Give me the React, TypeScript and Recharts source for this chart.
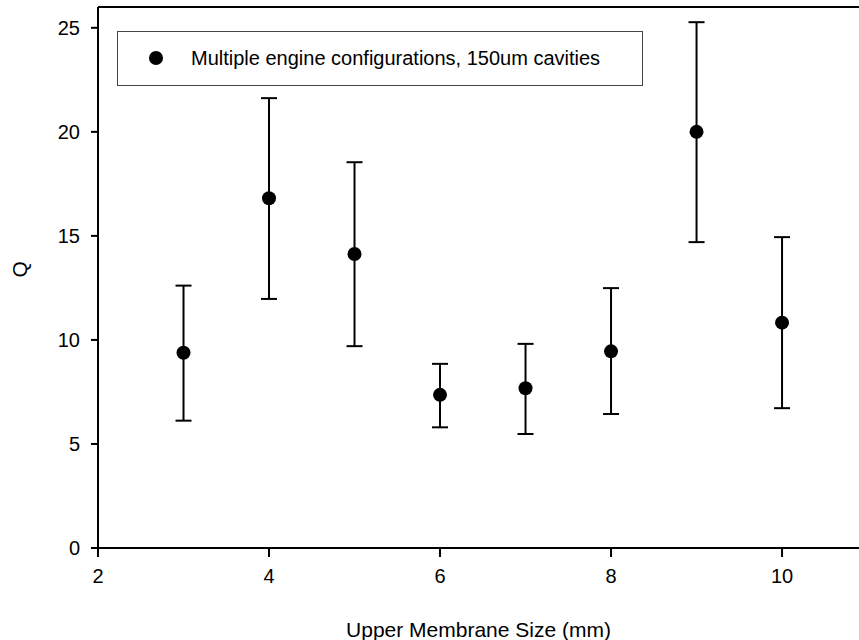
import React from "react";
import {
  ScatterChart,
  Scatter,
  XAxis,
  YAxis,
  ErrorBar,
  ReferenceLine,
  Legend,
} from "recharts";

const membraneSizes = [3, 4, 5, 6, 7, 8, 9, 10];
const qValues = [9.38, 16.81, 14.13, 7.36, 7.68, 9.45, 20.0, 10.83];
const qLower = [6.12, 11.97, 9.7, 5.8, 5.48, 6.44, 14.7, 6.72];
const qUpper = [12.61, 21.62, 18.54, 8.85, 9.81, 12.49, 25.27, 14.94];
const xTicks = [2, 4, 6, 8, 10];
const yTicks = [0, 5, 10, 15, 20, 25];
const seriesName = "Multiple engine configurations, 150um cavities";

const data = membraneSizes.map((x, i) => ({
  x,
  q: qValues[i],
  err: [qValues[i] - qLower[i], qUpper[i] - qValues[i]],
}));

const FONT = "'Liberation Sans', Arial, sans-serif";

const Dot = (p: any) => <circle cx={p.cx} cy={p.cy} r={7} fill="#000" />;

const LegendBox = () => (
  <div
    style={{
      width: 524,
      height: 53,
      border: "1px solid #444",
      background: "#fff",
      position: "relative",
      fontFamily: FONT,
      fontSize: 20,
      color: "#000",
    }}
  >
    <div
      style={{
        position: "absolute",
        left: 31,
        top: 19,
        width: 14,
        height: 14,
        borderRadius: 7,
        background: "#000",
      }}
    />
    <div
      style={{
        position: "absolute",
        left: 73,
        top: 0,
        height: 53,
        lineHeight: "53px",
        whiteSpace: "nowrap",
      }}
    >
      {seriesName}
    </div>
  </div>
);

export default function App() {
  return (
    <div style={{ position: "absolute", left: 0, top: 0, width: 859, height: 640, background: "#fff" }}>
      <ScatterChart
        width={859}
        height={640}
        margin={{ top: 7, right: 0, bottom: 0, left: 0 }}
        style={{ fontFamily: FONT }}
      >
        <XAxis
          type="number"
          dataKey="x"
          domain={[2, 10.9]}
          ticks={xTicks}
          allowDataOverflow
          height={92}
          tickSize={9}
          tickMargin={12}
          axisLine={{ stroke: "#000", strokeWidth: 2 }}
          tickLine={{ stroke: "#000", strokeWidth: 2 }}
          tick={{ fill: "#000", fontSize: 20, fontFamily: FONT }}
          label={{
            value: "Upper Membrane Size (mm)",
            position: "insideBottom",
            offset: 3,
            fill: "#000",
            fontSize: 21,
            fontFamily: FONT,
          }}
        />
        <YAxis
          type="number"
          dataKey="q"
          domain={[0, 26]}
          ticks={yTicks}
          allowDataOverflow
          width={98}
          tickSize={7}
          tickMargin={11}
          axisLine={{ stroke: "#000", strokeWidth: 2 }}
          tickLine={{ stroke: "#000", strokeWidth: 2 }}
          tick={{ fill: "#000", fontSize: 20, fontFamily: FONT }}
          label={{
            value: "Q",
            angle: -90,
            position: "insideLeft",
            offset: 20,
            fill: "#000",
            fontSize: 21,
            fontFamily: FONT,
          }}
        />
        <ReferenceLine y={26} stroke="#000" strokeWidth={2} ifOverflow="visible" />
        <Legend
          layout="horizontal"
          verticalAlign="middle"
          align="center"
          wrapperStyle={{ left: 117, top: 31, width: 526, height: 55 }}
          content={() => <LegendBox />}
        />
        <Scatter
          name={seriesName}
          data={data}
          fill="#000"
          shape={Dot}
          isAnimationActive={false}
        >
          <ErrorBar
            dataKey="err"
            direction="y"
            width={8}
            stroke="#000"
            strokeWidth={2}
            isAnimationActive={false}
          />
        </Scatter>
      </ScatterChart>
    </div>
  );
}
